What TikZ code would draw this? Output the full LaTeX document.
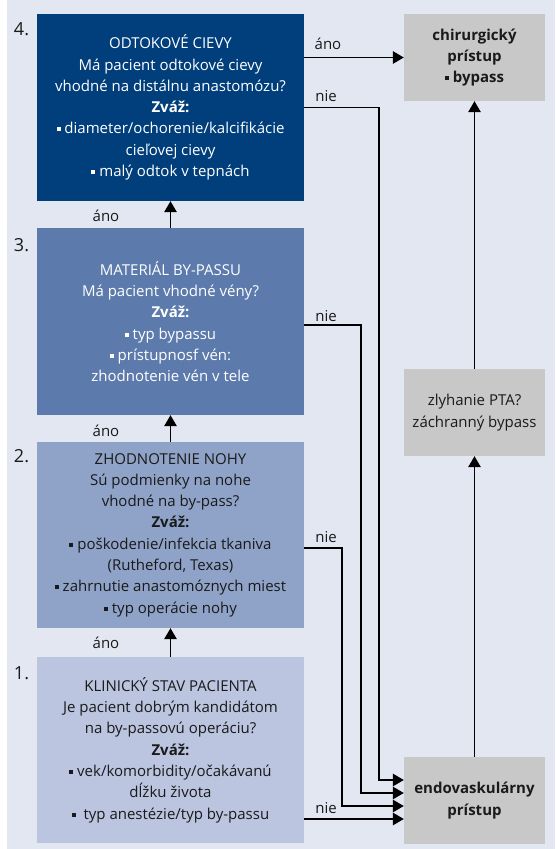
\documentclass[tikz,border=0pt]{standalone}
\usepackage{fontspec}
\setmainfont{Open Sans}
\usetikzlibrary{arrows.meta,calc}
\definecolor{bgc}{HTML}{E3E7F2}
\definecolor{cfour}{HTML}{003F7B}
\definecolor{cthree}{HTML}{5C7BAC}
\definecolor{ctwo}{HTML}{8FA3C8}
\definecolor{cone}{HTML}{BBC5E0}
\definecolor{cgrey}{HTML}{C8C8C8}
\definecolor{txt}{HTML}{1A1A1A}
\newcommand\sqb{\rule[2.5pt]{4pt}{4pt}}
\tikzset{
  bx/.style={rectangle, inner sep=0pt, minimum width=267pt, align=center,
    font=\fontsize{15}{21.3}\selectfont},
  gbx/.style={rectangle, fill=cgrey, inner sep=0pt, minimum width=141pt, minimum height=87pt,
    align=center, text=txt, font=\fontsize{15}{21.3}\selectfont},
  lbl/.style={text=txt, font=\fontsize{15}{17}\selectfont, inner sep=0pt},
  num/.style={text=txt, font=\fontsize{18}{20}\selectfont, inner sep=0pt},
  arr/.style={draw=black, line width=1.4pt, -{Triangle[length=11pt,width=12.5pt]}},
}
\begin{document}
\begin{tikzpicture}[x=1pt,y=-1pt]
\useasboundingbox (0,0) rectangle (555,849);
\fill[bgc] (7,0) rectangle (555,849);

\node[bx, fill=cfour, text=white, minimum height=187pt] (b4) at (170.5,107.5)
 {ODTOKOVÉ CIEVY\\Má pacient odtokové cievy\\vhodné na distálnu anastomózu?\\\textbf{Zváž:}\\\sqb{} diameter/ochorenie/kalcifikácie\\cieľovej cievy\\\sqb{} malý odtok v tepnách};
\node[bx, fill=cthree, text=white, minimum height=187pt] (b3) at (170.5,321.5)
 {MATERIÁL BY-PASSU\\Má pacient vhodné vény?\\\textbf{Zváž:}\\\sqb{} typ bypassu\\\sqb{} prístupnosf vén:\\zhodnotenie vén v tele};
\node[bx, fill=ctwo, text=txt, minimum height=186pt] (b2) at (170.5,535)
 {ZHODNOTENIE NOHY\\Sú podmienky na nohe\\vhodné na by-pass?\\\textbf{Zváž:}\\\sqb{} poškodenie/infekcia tkaniva\\(Rutheford, Texas)\\\sqb{} zahrnutie anastomóznych miest\\\sqb{} typ operácie nohy};
\node[bx, fill=cone, text=txt, minimum height=186pt] (b1) at (170.5,750)
 {KLINICKÝ STAV PACIENTA\\Je pacient dobrým kandidátom\\na by-passovú operáciu?\\\textbf{Zváž:}\\\sqb{} vek/komorbidity/očakávanú\\dĺžku života\\\sqb{}\ \ typ anestézie/typ by-passu};

\node[num] (n4) at (21.5,29) {4.};
\node[num] (n3) at (21.5,245) {3.};
\node[num] (n2) at (21.5,456) {2.};
\node[num] (n1) at (21.5,673) {1.};

\node[gbx] (chir) at (474.5,57.5) {\textbf{chirurgický}\\\textbf{prístup}\\\textbf{\sqb{} bypass}};
\node[gbx] (zly) at (474.5,412.5) {zlyhanie PTA?\\záchranný bypass};
\node[gbx] (endo) at (474.5,800.5) {\textbf{endovaskulárny}\\\textbf{prístup}};

% vertical yes arrows
\draw[arr] (b1.north) -- (b2.south);
\draw[arr] (b2.north) -- (b3.south);
\draw[arr] (b3.north) -- (b4.south);
\node[lbl] (a1) at (106,643) {áno};
\node[lbl] (a2) at (106,431) {áno};
\node[lbl] (a3) at (106,216) {áno};

% right column
\draw[arr] (endo.north) -- (zly.south);
\draw[arr] (zly.north) -- (chir.south);

% ano to chir
\draw[arr] (b4.east |- chir.west) -- (chir.west);
\node[lbl] (a4) at (328,44) {áno};

% nie connectors
\coordinate (e1) at ($(endo.west)+(0,-20.5)$);
\coordinate (e2) at ($(endo.west)+(0,-7.5)$);
\coordinate (e3) at ($(endo.west)+(0,5.5)$);
\coordinate (e4) at ($(endo.west)+(0,18.5)$);
\coordinate (s4) at (b4.east);
\coordinate (s3) at ($(b3.east)+(0,3.5)$);
\coordinate (s2) at ($(b2.east)+(0,13)$);
\draw[arr] (s4) -- (379,107.5) |- (e1);
\draw[arr] (s3) -- (361,325) |- (e2);
\draw[arr] (s2) -- (342,548) |- (e3);
\draw[arr] (b1.east |- e4) -- (e4);
\node[lbl] (x4) at (326,96) {nie};
\node[lbl] (x3) at (326,316) {nie};
\node[lbl] (x2) at (326,537) {nie};
\node[lbl] (x1) at (326,808) {nie};
\end{tikzpicture}
\end{document}
